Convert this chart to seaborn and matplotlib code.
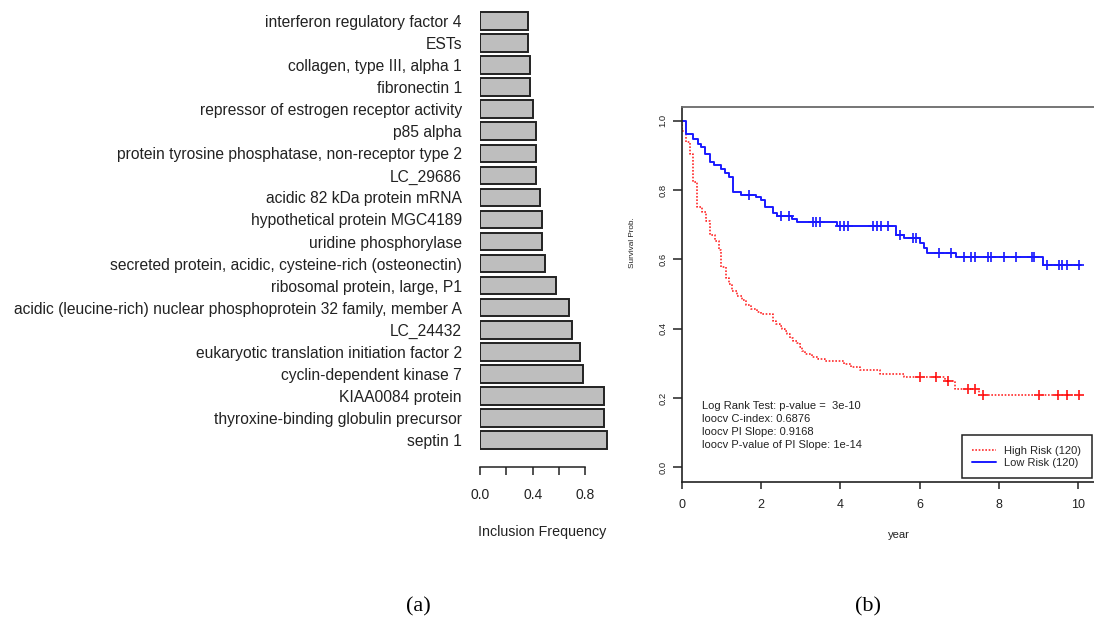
import numpy as np
import pandas as pd
import matplotlib
matplotlib.use("Agg")
import matplotlib.pyplot as plt
import seaborn as sns

sns.set_theme(style="white")
plt.rcParams["font.family"] = ["Liberation Sans", "DejaVu Sans"]

# ---------------- data: panel (a) ----------------
genes = [
    "interferon regulatory factor 4",
    "ESTs",
    "collagen, type III, alpha 1",
    "fibronectin 1",
    "repressor of estrogen receptor activity",
    "p85 alpha",
    "protein tyrosine phosphatase, non-receptor type 2",
    "LC_29686",
    "acidic 82 kDa protein mRNA",
    "hypothetical protein MGC4189",
    "uridine phosphorylase",
    "secreted protein, acidic, cysteine-rich (osteonectin)",
    "ribosomal protein, large, P1",
    "acidic (leucine-rich) nuclear phosphoprotein 32 family, member A",
    "LC_24432",
    "eukaryotic translation initiation factor 2",
    "cyclin-dependent kinase 7",
    "KIAA0084 protein",
    "thyroxine-binding globulin precursor",
    "septin 1",
]
inclusion_freq = [0.362, 0.362, 0.382, 0.382, 0.400, 0.423, 0.423, 0.423, 0.454, 0.473,
                  0.473, 0.494, 0.578, 0.676, 0.697, 0.760, 0.780, 0.942, 0.942, 0.965]
freq_ticks = [0.0, 0.2, 0.4, 0.6, 0.8]
freq_tick_labels = ["0.0", "", "0.4", "", "0.8"]

# ---------------- data: panel (b) ----------------
high_event_times = [0.02, 0.10, 0.21, 0.29, 0.39, 0.50, 0.61, 0.71, 0.84, 0.93, 1.00, 1.11,
                    1.19, 1.27, 1.39, 1.51, 1.62, 1.75, 1.90, 2.01, 2.30, 2.38, 2.47, 2.52,
                    2.60, 2.66, 2.72, 2.82, 2.90, 2.98, 3.04, 3.11, 3.28, 3.45, 3.61, 4.10,
                    4.27, 4.50, 5.00, 5.61, 6.64, 6.89, 7.51]
high_surv = [0.971, 0.939, 0.903, 0.822, 0.752, 0.737, 0.711, 0.671, 0.654, 0.627, 0.577, 0.545,
             0.528, 0.509, 0.495, 0.483, 0.467, 0.457, 0.449, 0.441, 0.423, 0.414, 0.407, 0.400,
             0.393, 0.384, 0.372, 0.365, 0.358, 0.347, 0.335, 0.326, 0.318, 0.313, 0.306, 0.298,
             0.290, 0.281, 0.269, 0.260, 0.248, 0.226, 0.210]
high_censor_times = [6.01, 6.41, 6.71, 7.21, 7.40, 7.61, 9.02, 9.50, 9.71, 10.02]

low_event_times = [0.11, 0.29, 0.40, 0.49, 0.60, 0.71, 0.82, 0.99, 1.10, 1.20, 1.30, 1.50,
                   1.88, 2.00, 2.10, 2.31, 2.40, 2.79, 2.91, 3.91, 5.40, 5.61, 6.02, 6.11,
                   6.20, 6.92, 9.12]
low_surv = [0.963, 0.947, 0.932, 0.923, 0.905, 0.881, 0.871, 0.860, 0.848, 0.838, 0.795, 0.785,
            0.779, 0.770, 0.751, 0.733, 0.725, 0.716, 0.707, 0.697, 0.669, 0.661, 0.648, 0.633,
            0.619, 0.606, 0.584]
low_censor_times = [1.71, 2.50, 2.71, 3.30, 3.40, 3.50, 3.99, 4.09, 4.20, 4.83, 4.92, 5.02,
                    5.21, 5.51, 5.84, 5.92, 6.50, 6.80, 7.11, 7.31, 7.40, 7.72, 7.79, 8.12,
                    8.42, 8.83, 8.89, 9.21, 9.52, 9.60, 9.71, 10.02]
follow_up_end = 10.08
group_labels = ["High Risk (120)", "Low Risk (120)"]
year_ticks = [0, 2, 4, 6, 8, 10]
surv_ticks = [0.0, 0.2, 0.4, 0.6, 0.8, 1.0]
stats_lines = [
    "Log Rank Test: p-value =  3e-10",
    "loocv C-index: 0.6876",
    "loocv PI Slope: 0.9168",
    "loocv P-value of PI Slope: 1e-14",
]

# ---------------- figure ----------------
W, H = 1094, 623
fig = plt.figure(figsize=(W / 100, H / 100), dpi=100)
fig.patch.set_facecolor("white")


def px_rect(l, t, r, b):
    return [l / W, 1 - b / H, (r - l) / W, (b - t) / H]


# ---- panel (a) ----
ax1 = fig.add_axes(px_rect(480, 10, 611.6, 451))
df_bar = pd.DataFrame({"gene": genes, "freq": inclusion_freq})
sns.barplot(data=df_bar, x="freq", y="gene", orient="h", color="#bebebe",
            saturation=1, edgecolor="#222222", linewidth=1.4, width=0.8, ax=ax1)
ax1.set_xlim(0, 1.0)
ax1.set_ylim(len(genes) - 0.5, -0.5)
for s in ["left", "top", "right"]:
    ax1.spines[s].set_visible(False)
ax1.spines["bottom"].set_bounds(0, 0.8)
ax1.spines["bottom"].set_position(("outward", 11.5))
ax1.spines["bottom"].set_color("#222222")
ax1.spines["bottom"].set_linewidth(1.1)
ax1.set_xticks(freq_ticks)
ax1.set_xticklabels(freq_tick_labels)
ax1.tick_params(axis="x", bottom=True, direction="out", length=5.8, width=1.1,
                color="#222222", pad=9, labelsize=10, labelcolor="#222222")
ax1.tick_params(axis="y", left=False, length=0, pad=13, labelsize=11.25, labelcolor="#222222")
ax1.set_xlabel("")
ax1.set_ylabel("")
fig.text(542.5 / W, 1 - 532 / H, "Inclusion Frequency", fontsize=10.3,
         ha="center", va="center", color="#222222")

# ---- panel (b) ----
ax2 = fig.add_axes(px_rect(681.7, 106.7, 1094, 481.7))


def km_frame(event_times, surv):
    t = np.concatenate([[0.0], event_times, [follow_up_end]])
    s = np.concatenate([[1.0], surv, [surv[-1]]])
    return pd.DataFrame({"year": t, "surv": s})


def censor_frame(km, censor_times):
    idx = np.searchsorted(km["year"].values, censor_times, side="right") - 1
    return pd.DataFrame({"year": censor_times, "surv": km["surv"].values[idx]})


km_hi = km_frame(high_event_times, high_surv)
km_lo = km_frame(low_event_times, low_surv)

sns.lineplot(data=km_hi, x="year", y="surv", drawstyle="steps-post", color="#ff2a2a",
             linestyle=(0, (1, 1)), linewidth=1.2, estimator=None, sort=False, ax=ax2,
             label=group_labels[0])
sns.lineplot(data=km_lo, x="year", y="surv", drawstyle="steps-post", color="#1a1aff",
             linewidth=1.4, estimator=None, sort=False, ax=ax2, label=group_labels[1])
sns.scatterplot(data=censor_frame(km_hi, high_censor_times), x="year", y="surv",
                marker="+", s=45, color="#ff0000", linewidth=1.1, ax=ax2, legend=False)
sns.scatterplot(data=censor_frame(km_lo, low_censor_times), x="year", y="surv",
                marker="+", s=45, color="#0000ff", linewidth=1.1, ax=ax2, legend=False)

ax2.set_xlim(0, 10.40)
ax2.set_ylim(-0.0416, 1.0407)
ax2.set_xticks(year_ticks)
ax2.set_yticks(surv_ticks)
ax2.set_yticklabels([f"{v:.1f}" for v in surv_ticks], rotation=90, va="center")
ax2.tick_params(axis="x", bottom=True, direction="out", length=5.2, width=1.1,
                color="#222222", pad=7.5, labelsize=9, labelcolor="#222222")
ax2.tick_params(axis="y", left=True, direction="out", length=6.2, width=1.1,
                color="#222222", pad=4, labelsize=6.8, labelcolor="#222222")
ax2.spines["right"].set_visible(False)
for s in ["left", "bottom"]:
    ax2.spines[s].set_color("#222222")
    ax2.spines[s].set_linewidth(1.2)
ax2.spines["top"].set_color("#6a6a6a")
ax2.spines["top"].set_linewidth(1.3)
ax2.set_xlabel("")
ax2.set_ylabel("")

fig.text(899 / W, 1 - 535 / H, "year", fontsize=8.1, ha="center", va="center",
         color="#222222")
fig.text(633 / W, 1 - 243 / H, "Survival Prob.", fontsize=5.9, rotation=90,
         ha="center", va="center", color="#222222")

for i, line in enumerate(stats_lines):
    fig.text(701.7 / W, 1 - (406.3 + i * 13.0) / H, line, fontsize=8, ha="left",
             va="center", color="#222222")

handles, labels = ax2.get_legend_handles_labels()
leg = ax2.legend(handles[:2], labels[:2], loc="lower left",
                 bbox_to_anchor=(961.7 / W, 1 - 478.3 / H), bbox_transform=fig.transFigure,
                 frameon=True, fancybox=False, fontsize=8, handlelength=2.1,
                 handletextpad=0.8, borderpad=0.95, labelspacing=0.2, borderaxespad=0)
leg.get_frame().set_edgecolor("#222222")
leg.get_frame().set_linewidth(1.1)
leg.get_frame().set_alpha(1)

# panel labels
fig.text(418 / W, 1 - 607 / H, "(a)", fontsize=16, family=["Liberation Serif", "DejaVu Serif"],
         ha="center", va="center", color="black")
fig.text(868 / W, 1 - 607 / H, "(b)", fontsize=16, family=["Liberation Serif", "DejaVu Serif"],
         ha="center", va="center", color="black")

fig.savefig("out.png", dpi=100, facecolor="white")
